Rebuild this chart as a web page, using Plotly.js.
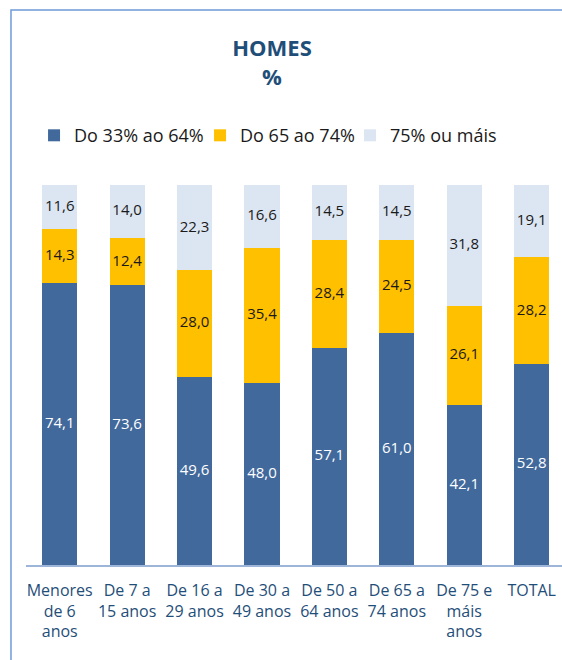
<!DOCTYPE html>
<html>
<head>
<meta charset="utf-8">
<script src="https://cdn.plot.ly/plotly-3.0.1.min.js"></script>
<style>html,body{margin:0;padding:0;background:#fff;}#chart{width:562px;height:660px;}</style>
</head>
<body>
<div id="chart"></div>
<script>
const categories = ["Menores<br>de 6<br>anos","De 7 a<br>15 anos","De 16 a<br>29 anos","De 30 a<br>49 anos","De 50 a<br>64 anos","De 65 a<br>74 anos","De 75 e<br>máis<br>anos","TOTAL"];
const seriesNames = ["Do 33% ao 64%","Do 65 ao 74%","75% ou máis"];
const s33to64 = [74.1,73.6,49.6,48.0,57.1,61.0,42.1,52.8];
const s65to74 = [14.3,12.4,28.0,35.4,28.4,24.5,26.1,28.2];
const s75plus = [11.6,14.0,22.3,16.6,14.5,14.5,31.8,19.1];

const colors = ["#41699B","#FFC000","#DCE6F2"];
const textColors = ["#ffffff","#1a1a1a","#1a1a1a"];
const legendWidths = [121, 105, 110];
const font = "'Open Sans', 'Noto Sans', sans-serif";
const series = [s33to64, s65to74, s75plus];

const bars = series.map((vals, i) => ({
  type: "bar",
  name: seriesNames[i],
  x: categories,
  y: vals,
  width: 0.52,
  legendwidth: legendWidths[i],
  marker: {color: colors[i], line: {width: 0}},
  hoverinfo: "skip"
}));

// data labels at the middle of each stacked segment (computed from the data)
const labels = series.map((vals, i) => {
  const mids = vals.map((v, k) => {
    let base = 0;
    for (let j = 0; j < i; j++) base += series[j][k];
    return base + v / 2;
  });
  return {
    type: "scatter", mode: "text", showlegend: false, hoverinfo: "skip",
    x: categories, y: mids,
    text: vals.map(v => v.toFixed(1).replace(".", ",")),
    textposition: "middle center",
    textfont: {family: font, size: 15, color: textColors[i]}
  };
});

const layout = {
  width: 562, height: 660,
  margin: {l: 26, r: 0, t: 185, b: 95, pad: 0},
  barmode: "stack",
  separators: ",.",
  paper_bgcolor: "#ffffff",
  plot_bgcolor: "#ffffff",
  font: {family: font},
  title: {
    text: "<b>HOMES</b><br><b>%</b>",
    font: {family: font, size: 22, color: "#1F4E79"},
    x: 0.484, xanchor: "center", xref: "container",
    y: 0.915, yanchor: "middle", yref: "container"
  },
  showlegend: true,
  legend: {
    orientation: "h",
    x: 0.015, xanchor: "left",
    y: 1.13, yanchor: "middle",
    font: {family: font, size: 18, color: "#1a1a1a"},
    traceorder: "normal",
    itemclick: false
  },
  xaxis: {
    type: "category",
    range: [-0.5, 7.45],
    showline: true, linecolor: "#9DB5D8", linewidth: 1.5,
    ticks: "", showgrid: false, zeroline: false,
    tickfont: {family: font, size: 16, color: "#1F4E79"},
    ticklabelstandoff: 10,
    fixedrange: true
  },
  yaxis: {
    range: [0, 100],
    visible: false, showgrid: false, zeroline: false,
    fixedrange: true
  },
  shapes: [{
    type: "rect", xref: "paper", yref: "paper",
    x0: -0.028, x1: 1.2, y0: -0.5, y1: 1.4605,
    line: {color: "#6E9BD8", width: 1.5}, fillcolor: "rgba(0,0,0,0)",
    layer: "above"
  }]
};

Plotly.newPlot("chart", bars.concat(labels), layout, {displayModeBar: false, staticPlot: true});
</script>
</body>
</html>
